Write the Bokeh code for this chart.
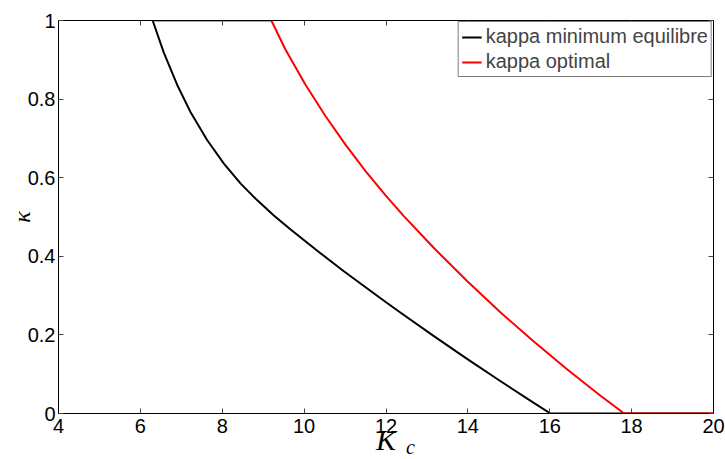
from bokeh.plotting import figure
from bokeh.models import (LinearAxis, FixedTicker, Legend, LegendItem,
                          Range1d, CustomJSTickFormatter, NumeralTickFormatter)
from bokeh.embed import file_html
from bokeh.resources import INLINE

# ---- data ----
kmin_x = [6.30, 6.57, 6.90, 7.22, 7.63, 8.04, 8.45, 8.85, 9.26, 9.67, 10.36,
          10.97, 11.95, 12.35, 13.17, 13.98, 14.80, 15.61, 16.02, 20.0]
kmin_y = [1.0, 0.919, 0.836, 0.768, 0.696, 0.636, 0.585, 0.543, 0.504, 0.468,
          0.411, 0.362, 0.287, 0.257, 0.197, 0.139, 0.082, 0.027, 0.0, 0.0]

kopt_x = [6.30, 9.20, 9.54, 10.03, 10.52, 11.01, 11.50, 11.99, 12.43, 13.17,
          13.98, 14.80, 15.61, 16.43, 17.24, 17.82, 20.0]
kopt_y = [1.0, 1.0, 0.927, 0.837, 0.757, 0.684, 0.617, 0.555, 0.503, 0.421,
          0.337, 0.257, 0.183, 0.112, 0.045, 0.0, 0.0]

x_ticks = [4, 6, 8, 10, 12, 14, 16, 18, 20]
y_ticks = [0, 0.2, 0.4, 0.6, 0.8, 1]
series_labels = ["kappa minimum equilibre", "kappa optimal"]
x_label_main = "K"
x_label_sub = "c"
y_label = "κ"

TICK_FONT = "Liberation Sans"
TICK_SIZE = "20px"
SERIF = "Liberation Serif"
SUB_POS = 12.6   # horizontal place of the subscript, in axis units

p = figure(width=725, height=459,
           x_range=Range1d(4, 20), y_range=Range1d(0, 1),
           output_backend="svg", toolbar_location=None,
           min_border_left=58, min_border_right=12,
           min_border_top=20, min_border_bottom=46)
p.background_fill_color = "white"
p.border_fill_color = "white"
p.outline_line_color = "black"
p.outline_line_width = 1
p.xgrid.visible = False
p.ygrid.visible = False

for ax, ticks in ((p.xaxis[0], x_ticks), (p.yaxis[0], y_ticks)):
    ax.ticker = FixedTicker(ticks=ticks)
    ax.major_tick_in = 5
    ax.major_tick_out = 0
    ax.major_tick_line_color = "#444444"
    ax.minor_tick_line_color = None
    ax.axis_line_color = "black"
    ax.axis_line_width = 1
    ax.major_label_text_font = TICK_FONT
    ax.major_label_text_font_size = TICK_SIZE
    ax.major_label_text_color = "black"
    ax.major_label_standoff = 3
    ax.axis_label_text_font = SERIF
    ax.axis_label_text_font_style = "italic"
    ax.axis_label_text_color = "black"
p.yaxis[0].formatter = NumeralTickFormatter(format="0.[0]")
p.xaxis[0].major_label_standoff = 5

p.yaxis[0].axis_label = y_label
p.yaxis[0].axis_label_text_font_size = "24px"
p.yaxis[0].axis_label_standoff = -10

# mirrored tick marks on top and right (no labels)
for loc, ticks in (("above", x_ticks), ("right", y_ticks)):
    ax = LinearAxis(ticker=FixedTicker(ticks=ticks),
                    formatter=CustomJSTickFormatter(code="return ''"),
                    major_tick_in=5, major_tick_out=0,
                    major_tick_line_color="#444444",
                    minor_tick_line_color=None,
                    axis_line_color="black",
                    major_label_standoff=0,
                    major_label_text_font_size="1px")
    p.add_layout(ax, loc)

# x label "K" with subscript "c": a bare axis stacked below the main one
label_axis = LinearAxis(ticker=FixedTicker(ticks=[SUB_POS]),
                        formatter=CustomJSTickFormatter(args=dict(t=x_label_sub),
                                                        code="return t"),
                        major_tick_in=0, major_tick_out=0,
                        major_tick_line_color=None, minor_tick_line_color=None,
                        axis_line_color=None,
                        major_label_standoff=0,
                        major_label_text_font=SERIF,
                        major_label_text_font_style="italic",
                        major_label_text_font_size="20px",
                        major_label_text_color="black",
                        axis_label=x_label_main,
                        axis_label_standoff=-38,
                        axis_label_text_font=SERIF,
                        axis_label_text_font_style="italic",
                        axis_label_text_font_size="30px",
                        axis_label_text_color="black")
p.add_layout(label_axis, "below")

r1 = p.line(kmin_x, kmin_y, line_color="black", line_width=2, line_join="round")
r2 = p.line(kopt_x, kopt_y, line_color="red", line_width=2, line_join="round")

legend = Legend(items=[LegendItem(label=series_labels[0], renderers=[r1]),
                       LegendItem(label=series_labels[1], renderers=[r2])],
                location="top_right", margin=1, padding=3, spacing=2,
                glyph_width=20, glyph_height=22, label_height=22,
                label_standoff=4,
                label_text_font=TICK_FONT, label_text_font_size="20px",
                border_line_color="black", border_line_width=1,
                background_fill_color="white", background_fill_alpha=1.0)
p.add_layout(legend)

open("out.html", "w").write(file_html(p, INLINE))
